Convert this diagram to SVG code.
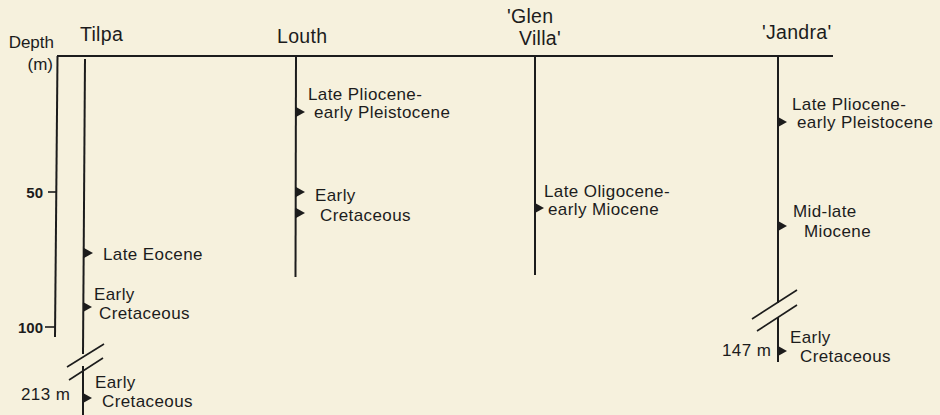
<svg xmlns="http://www.w3.org/2000/svg" width="940" height="415" viewBox="0 0 940 415">
<style>
text{font-family:"Liberation Sans",Arial,sans-serif;fill:#1c1c1c}
.t{font-size:19.5px;letter-spacing:0.3px}
.l{font-size:17px;letter-spacing:0.4px}
.ax{font-size:17px}
.num{font-size:15px;font-weight:bold}
.ln{stroke:#1c1c1c;stroke-width:2;fill:none}
.thin{stroke:#1c1c1c;stroke-width:1.6;fill:none}
</style>
<defs>
<path id="tri" d="M0,-5 L9,0 L0,5 Z" fill="#1c1c1c"/>
</defs>
<rect width="940" height="415" fill="#f6f1dd"/>

<g id="axis">
<line class="ln" x1="57" y1="56" x2="833" y2="56"/>
<line class="ln" x1="57.5" y1="56" x2="55" y2="337"/>
<line class="thin" x1="48" y1="192" x2="56" y2="192"/>
<line class="thin" x1="45" y1="327" x2="55" y2="327"/>
<text class="ax" x="54" y="47.5" text-anchor="end">Depth</text>
<text class="ax" x="53" y="70" text-anchor="end">(m)</text>
<text class="num" x="43" y="198" text-anchor="end">50</text>
<text class="num" x="43" y="333" text-anchor="end">100</text>
</g>

<g id="tilpa">
<text class="t" x="80" y="41">Tilpa</text>
<line class="ln" x1="85" y1="59" x2="83" y2="354"/>
<line class="ln" x1="83" y1="366" x2="83" y2="415"/>
<line class="thin" x1="67" y1="367" x2="104" y2="344"/>
<line class="thin" x1="69" y1="380" x2="103" y2="358"/>
<use href="#tri" x="84" y="253"/>
<text class="l" x="103" y="260">Late Eocene</text>
<use href="#tri" x="83" y="307"/>
<text class="l" x="94" y="300">Early</text>
<text class="l" x="99" y="319">Cretaceous</text>
<text class="l" x="21" y="400">213 m</text>
<use href="#tri" x="83" y="398"/>
<text class="l" x="95" y="388">Early</text>
<text class="l" x="102" y="407">Cretaceous</text>
</g>

<g id="louth">
<text class="t" x="277" y="43">Louth</text>
<line class="ln" x1="296" y1="56" x2="295.5" y2="277"/>
<use href="#tri" x="296" y="112"/>
<text class="l" x="308" y="100">Late Pliocene-</text>
<text class="l" x="314" y="118">early Pleistocene</text>
<use href="#tri" x="296" y="192"/>
<use href="#tri" x="296" y="213"/>
<text class="l" x="315" y="201">Early</text>
<text class="l" x="320" y="221">Cretaceous</text>
</g>

<g id="glen-villa">
<text class="t" x="507" y="23">'Glen</text>
<text class="t" x="519" y="45">Villa'</text>
<line class="ln" x1="535" y1="56" x2="535" y2="275"/>
<use href="#tri" x="535" y="208"/>
<text class="l" x="544" y="197">Late Oligocene-</text>
<text class="l" x="548" y="215">early Miocene</text>
</g>

<g id="jandra">
<text class="t" x="762" y="39">'Jandra'</text>
<line class="ln" x1="778" y1="56" x2="778" y2="303"/>
<line class="ln" x1="778" y1="317" x2="778" y2="362"/>
<line class="thin" x1="752" y1="319" x2="797" y2="290"/>
<line class="thin" x1="757" y1="331" x2="797" y2="305"/>
<use href="#tri" x="778" y="122"/>
<text class="l" x="792" y="110">Late Pliocene-</text>
<text class="l" x="797" y="128">early Pleistocene</text>
<use href="#tri" x="778" y="226"/>
<text class="l" x="793" y="217">Mid-late</text>
<text class="l" x="804" y="237">Miocene</text>
<text class="l" x="722" y="356">147 m</text>
<use href="#tri" x="778" y="351"/>
<text class="l" x="790" y="343">Early</text>
<text class="l" x="800" y="362">Cretaceous</text>
</g>
</svg>
